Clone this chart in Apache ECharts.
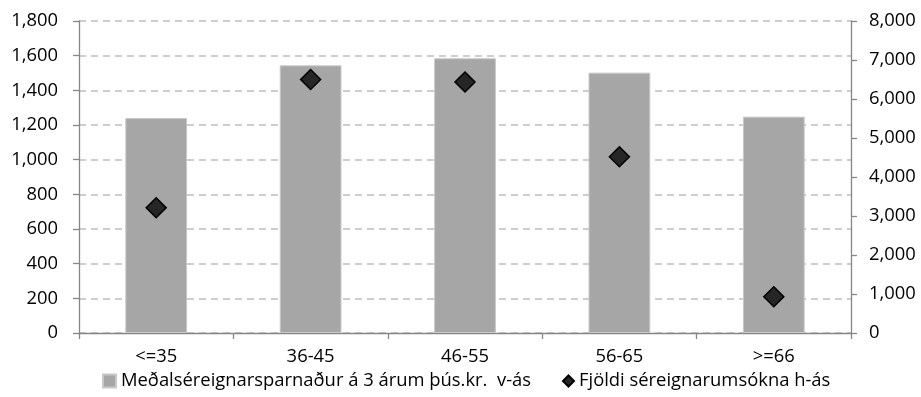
<!DOCTYPE html>
<html>
<head>
<meta charset="utf-8">
<script src="https://cdn.jsdelivr.net/npm/echarts@6/dist/echarts.min.js"></script>
<style>html,body{margin:0;padding:0;background:#fff}#c{width:921px;height:397px}</style>
</head>
<body>
<div id="c"></div>
<script>
var categories = ['<=35', '36-45', '46-55', '56-65', '>=66'];
var savingsValues = [1240, 1544, 1585, 1502, 1248];
var applicationValues = [3210, 6500, 6435, 4520, 930];
var leftTicks = [0, 1800, 200];
var rightTicks = [0, 8000, 1000];
var barName = 'Meðalséreignarsparnaður á 3 árum þús.kr.  v-ás';
var pointName = 'Fjöldi séreignarumsókna h-ás';

var FONT = 'Open Sans';
var FS = 18.4;
var chart = echarts.init(document.getElementById('c'));
var axisLineStyle = {show: true, lineStyle: {color: '#868686', width: 1.3}};
chart.setOption({
  animation: false,
  textStyle: {fontFamily: FONT},
  grid: {left: 79, right: 70, top: 21, bottom: 64},
  legend: [{
    data: [{name: barName, icon: 'rect'}],
    left: 102, top: 372, padding: 0, itemWidth: 13, itemHeight: 13, itemGap: 6,
    textStyle: {fontFamily: FONT, fontSize: FS, color: '#000'}
  }, {
    data: [{name: pointName, icon: 'diamond'}],
    left: 562, top: 372, padding: 0, itemWidth: 11, itemHeight: 11, itemGap: 6,
    textStyle: {fontFamily: FONT, fontSize: FS, color: '#000'}
  }],
  xAxis: {
    type: 'category', data: categories, boundaryGap: true,
    axisLine: axisLineStyle,
    axisTick: {show: true, length: 6, lineStyle: {color: '#868686', width: 1.3}},
    axisLabel: {fontFamily: FONT, fontSize: FS, color: '#000', margin: 15}
  },
  yAxis: [{
    type: 'value', min: leftTicks[0], max: leftTicks[1], interval: leftTicks[2],
    axisLine: axisLineStyle,
    axisTick: {show: true, length: 6, inside: false, lineStyle: {color: '#868686', width: 1.3}},
    axisLabel: {fontFamily: FONT, fontSize: FS, color: '#000', margin: 21,
      formatter: function (v) { return v.toLocaleString('en-US'); }},
    splitLine: {show: true, lineStyle: {color: '#bdbdbd', type: [7, 5], width: 1.5}}
  }, {
    type: 'value', min: rightTicks[0], max: rightTicks[1], interval: rightTicks[2],
    position: 'right',
    axisLine: axisLineStyle,
    axisTick: {show: true, length: 6, lineStyle: {color: '#868686', width: 1.3}},
    axisLabel: {fontFamily: FONT, fontSize: FS, color: '#000', margin: 18,
      formatter: function (v) { return v.toLocaleString('en-US'); }},
    splitLine: {show: false}
  }],
  series: [{
    name: barName, type: 'bar', data: savingsValues, yAxisIndex: 0,
    barWidth: '40%',
    itemStyle: {color: '#a6a6a6', borderColor: '#c8c8c8', borderWidth: 1}
  }, {
    name: pointName, type: 'scatter', data: applicationValues, yAxisIndex: 1,
    symbol: 'diamond', symbolSize: 20, z: 5,
    itemStyle: {color: '#262626', borderColor: '#000', borderWidth: 1.5, opacity: 1}
  }]
});
</script>
</body>
</html>
